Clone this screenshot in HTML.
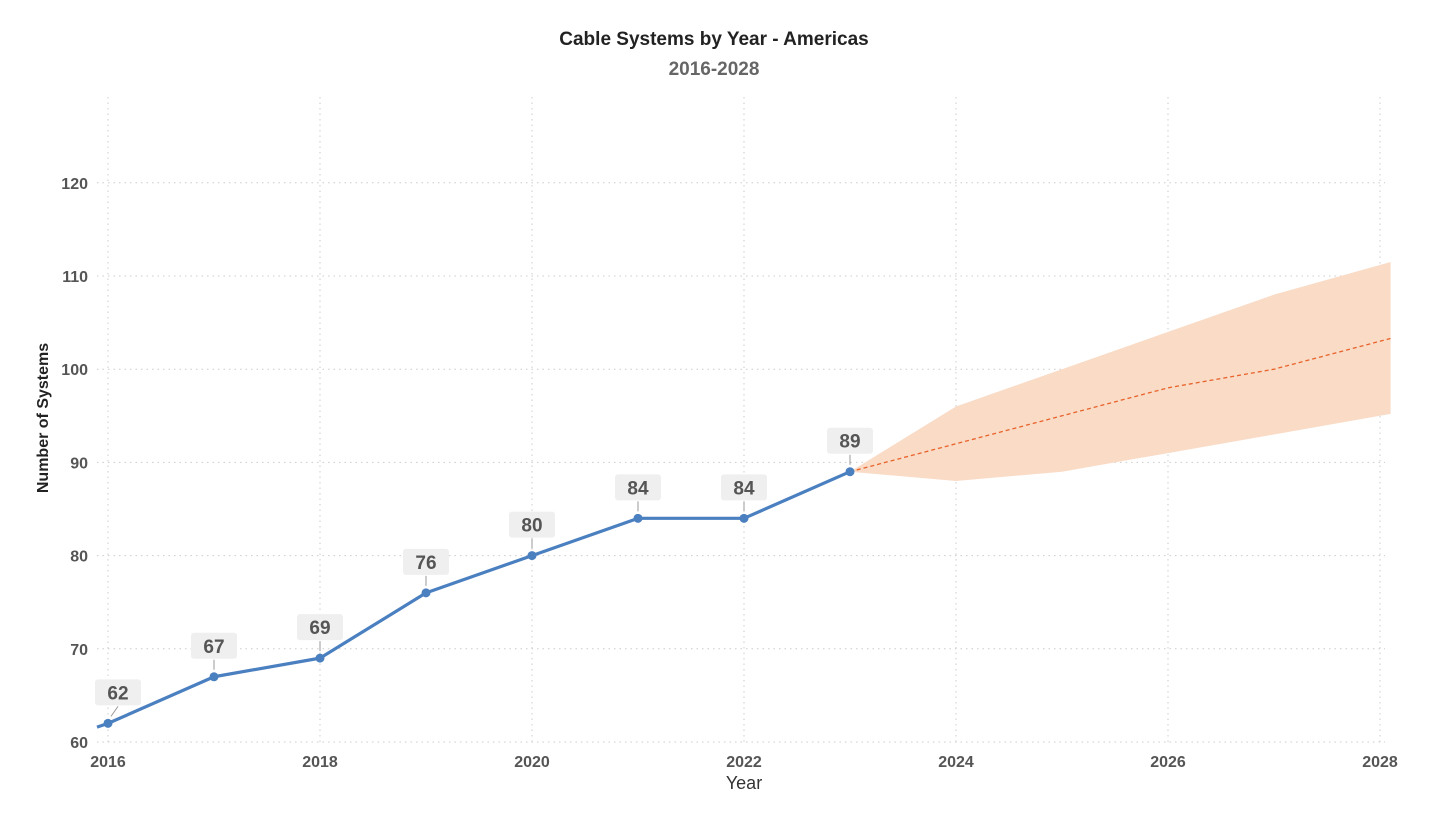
<!DOCTYPE html>
<html><head><meta charset="utf-8"><style>
body{margin:0;background:#fff;}
svg text{font-family:"Liberation Sans",sans-serif;font-weight:bold;}
</style></head><body>
<svg id="chart" width="1429" height="825" viewBox="0 0 1429 825" xmlns="http://www.w3.org/2000/svg">
<text x="714" y="45" text-anchor="middle" font-size="19" fill="#222">Cable Systems by Year - Americas</text>
<text x="714" y="75" text-anchor="middle" font-size="19" fill="#666">2016-2028</text>
<text transform="translate(48,418) rotate(-90)" text-anchor="middle" font-size="16" fill="#222">Number of Systems</text>
<text x="744" y="789" text-anchor="middle" font-size="18" font-weight="normal" fill="#333" style="font-weight:normal">Year</text>
<g id="grid"></g><g id="band"></g><g id="lines"></g><g id="labels"></g>
</svg>
<script>
const years=[2016,2017,2018,2019,2020,2021,2022,2023];
const values=[62,67,69,76,80,84,84,89];
const fcYears=[2023,2024,2025,2026,2027,2028.1];
const fcMid=[89,92,95,98,100,103.3];
const fcUpper=[89,96,100,104,108,111.5];
const fcLower=[89,88,89,91,93,95.2];
const yTicks=[60,70,80,90,100,110,120];
const xTicks=[2016,2018,2020,2022,2024,2026,2028];
const NS="http://www.w3.org/2000/svg";
const X=v=>108+(v-2016)*106;
const Y=v=>742-(v-60)*9.32;
function mk(t,a,p){const e=document.createElementNS(NS,t);for(const k in a)e.setAttribute(k,a[k]);p.appendChild(e);return e;}
const grid=document.getElementById('grid');
yTicks.forEach(t=>{
 const l=mk('line',{x1:97,x2:1385,y1:Y(t),y2:Y(t),stroke:'#ccc','stroke-dasharray':'1.5,4'},grid);
 
 
 const tx=mk('text',{x:88,y:Y(t)+6,'text-anchor':'end','font-size':16,fill:'#555'},grid);tx.textContent=t;
 
 
});
xTicks.forEach(t=>{
 const l=mk('line',{x1:X(t),x2:X(t),y1:97,y2:742,stroke:'#ccc','stroke-dasharray':'1.5,4'},grid);
 
 
 const tx=mk('text',{x:X(t),y:767,'text-anchor':'middle','font-size':16,fill:'#555'},grid);tx.textContent=t;
 
 
});
const band=document.getElementById('band');
let d=fcYears.map((y,i)=>(i?'L':'M')+X(y)+','+Y(fcUpper[i])).join(' ');
for(let i=fcYears.length-1;i>=0;i--)d+=' L'+X(fcYears[i])+','+Y(fcLower[i]);
const bp=mk('path',{d:d+'Z',fill:'#f9dbc6'},band);


const lines=document.getElementById('lines');
const fl=mk('polyline',{points:fcYears.map((y,i)=>X(y)+','+Y(fcMid[i])).join(' '),fill:'none',stroke:'#e8622a','stroke-width':1.3,'stroke-dasharray':'4,3'},lines);


const pts=[[97,Y(61.6)]].concat(years.map((y,i)=>[X(y),Y(values[i])]));
const al=mk('polyline',{points:pts.map(p=>p.join(',')).join(' '),fill:'none',stroke:'#4a7fc0','stroke-width':3.2,'stroke-linejoin':'round'},lines);


const labels=document.getElementById('labels');
years.forEach((y,i)=>{
 const cx=X(y),cy=Y(values[i]);
 const c=mk('circle',{cx:cx,cy:cy,r:4.5,fill:'#4a7fc0'},lines);
 
 
 const bx=cx+(i===0?10:0);
 mk('line',{x1:cx+(i===0?3:0),y1:cy-7,x2:bx,y2:cy-17,stroke:'#999','stroke-width':1},labels);
 const r=mk('rect',{x:bx-23,y:cy-44,width:46,height:26,rx:3,fill:'#efefef'},labels);
 
 
 const t=mk('text',{x:bx,y:cy-24,'text-anchor':'middle','font-size':19,fill:'#555'},labels);t.textContent=values[i];
 
 
});
</script>
</body></html>
